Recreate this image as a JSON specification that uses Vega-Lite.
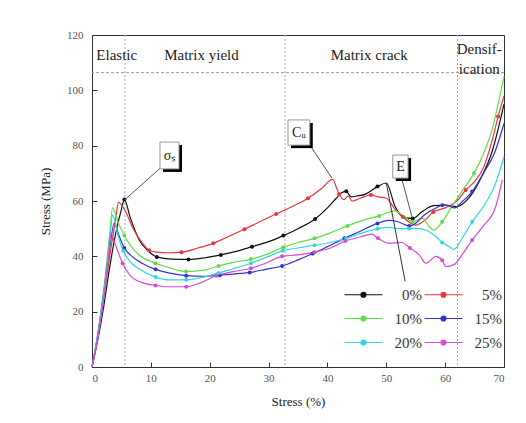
{
  "$schema": "https://vega.github.io/schema/vega-lite/v6.json",
  "width": 412,
  "height": 332,
  "autosize": "none",
  "padding": {"left": 92, "top": 35, "right": 22, "bottom": 56},
  "background": "white",
  "config": {
    "view": {"stroke": "#333", "strokeWidth": 1},
    "axis": {"grid": false, "domainColor": "#333", "tickColor": "#333", "labelFont": "Liberation Serif", "labelFontSize": 11, "labelColor": "#555", "titleFont": "Liberation Serif", "titleFontSize": 13, "titleFontWeight": "normal", "titleColor": "#222"}
  },
  "datasets": {
    "curves": [
      {"s":"0%","x":0,"y":0},{"s":"0%","x":1,"y":10},{"s":"0%","x":2,"y":22},{"s":"0%","x":3,"y":36},{"s":"0%","x":4,"y":48},{"s":"0%","x":5,"y":57},{"s":"0%","x":5.5,"y":60.5,"m":1},{"s":"0%","x":6.5,"y":54},{"s":"0%","x":8,"y":46},{"s":"0%","x":9.5,"y":42},{"s":"0%","x":11,"y":39.8,"m":1},{"s":"0%","x":13.5,"y":39},{"s":"0%","x":16.4,"y":38.9,"m":1},{"s":"0%","x":19,"y":39.4},{"s":"0%","x":21.9,"y":40.5,"m":1},{"s":"0%","x":24.5,"y":41.8},{"s":"0%","x":27.2,"y":43.5,"m":1},{"s":"0%","x":30,"y":45.3},{"s":"0%","x":32.5,"y":47.5,"m":1},{"s":"0%","x":35,"y":50},{"s":"0%","x":37.9,"y":53.5,"m":1},{"s":"0%","x":40,"y":57.5},{"s":"0%","x":41.5,"y":61},{"s":"0%","x":42.4,"y":63},{"s":"0%","x":43.2,"y":63.5,"m":1},{"s":"0%","x":44,"y":61.5},{"s":"0%","x":45,"y":61.8},{"s":"0%","x":46.5,"y":62.5},{"s":"0%","x":48.5,"y":65.2,"m":1},{"s":"0%","x":50,"y":66.5},{"s":"0%","x":51.5,"y":58},{"s":"0%","x":53,"y":54},{"s":"0%","x":54.5,"y":53.7,"m":1},{"s":"0%","x":56,"y":56},{"s":"0%","x":58,"y":58.3},{"s":"0%","x":60,"y":58.5},{"s":"0%","x":62,"y":58},{"s":"0%","x":64,"y":61},{"s":"0%","x":66,"y":68},{"s":"0%","x":68,"y":78},{"s":"0%","x":70,"y":95},
      {"s":"5%","x":0,"y":0},{"s":"5%","x":1,"y":11},{"s":"5%","x":2,"y":25},{"s":"5%","x":3,"y":40},{"s":"5%","x":4,"y":53},{"s":"5%","x":4.5,"y":59.5},{"s":"5%","x":5.5,"y":57},{"s":"5%","x":7,"y":50},{"s":"5%","x":8.5,"y":45},{"s":"5%","x":9.7,"y":42.2,"m":1},{"s":"5%","x":11,"y":41.5},{"s":"5%","x":13,"y":41.3},{"s":"5%","x":15.2,"y":41.5,"m":1},{"s":"5%","x":18,"y":43},{"s":"5%","x":20.6,"y":44.7,"m":1},{"s":"5%","x":23,"y":47},{"s":"5%","x":25.9,"y":49.8,"m":1},{"s":"5%","x":28.5,"y":52.5},{"s":"5%","x":31.3,"y":55.3,"m":1},{"s":"5%","x":34,"y":58},{"s":"5%","x":36.7,"y":61,"m":1},{"s":"5%","x":39,"y":64.5},{"s":"5%","x":40.9,"y":67.8},{"s":"5%","x":41.5,"y":65},{"s":"5%","x":42,"y":62.5,"m":1},{"s":"5%","x":42.8,"y":60.5},{"s":"5%","x":43.5,"y":61.8},{"s":"5%","x":44.2,"y":60},{"s":"5%","x":45,"y":60.5},{"s":"5%","x":46.2,"y":61.5},{"s":"5%","x":47.4,"y":62.2,"m":1},{"s":"5%","x":48.5,"y":61.5},{"s":"5%","x":50,"y":61},{"s":"5%","x":51.5,"y":57},{"s":"5%","x":52.8,"y":54.3,"m":1},{"s":"5%","x":55,"y":51.3},{"s":"5%","x":56.5,"y":53},{"s":"5%","x":58,"y":56,"m":1},{"s":"5%","x":60,"y":57.5},{"s":"5%","x":62,"y":60},{"s":"5%","x":63.5,"y":64,"m":1},{"s":"5%","x":65,"y":67},{"s":"5%","x":66.5,"y":72},{"s":"5%","x":68,"y":82},{"s":"5%","x":69,"y":90.5,"m":1},{"s":"5%","x":70,"y":98},
      {"s":"10%","x":0,"y":0},{"s":"10%","x":1,"y":12},{"s":"10%","x":2,"y":28},{"s":"10%","x":3,"y":48},{"s":"10%","x":3.5,"y":57.5},{"s":"10%","x":4.5,"y":52},{"s":"10%","x":5.5,"y":47.5,"m":1},{"s":"10%","x":6.5,"y":44},{"s":"10%","x":8,"y":40.5},{"s":"10%","x":10.8,"y":37.5,"m":1},{"s":"10%","x":13,"y":36},{"s":"10%","x":16,"y":34.5,"m":1},{"s":"10%","x":19,"y":35},{"s":"10%","x":21.5,"y":36.5,"m":1},{"s":"10%","x":24,"y":37.8},{"s":"10%","x":27,"y":39,"m":1},{"s":"10%","x":30,"y":41},{"s":"10%","x":32.5,"y":43.3,"m":1},{"s":"10%","x":35,"y":45},{"s":"10%","x":37.8,"y":46.5,"m":1},{"s":"10%","x":40.5,"y":48.5},{"s":"10%","x":43.4,"y":51,"m":1},{"s":"10%","x":46,"y":53},{"s":"10%","x":48.8,"y":54.6,"m":1},{"s":"10%","x":51.4,"y":56.4},{"s":"10%","x":53,"y":54.5},{"s":"10%","x":54.5,"y":52.5,"m":1},{"s":"10%","x":56.2,"y":53.7},{"s":"10%","x":57.2,"y":51},{"s":"10%","x":58.1,"y":49.5},{"s":"10%","x":59.5,"y":52.5,"m":1},{"s":"10%","x":61,"y":57.5},{"s":"10%","x":63,"y":64},{"s":"10%","x":64.9,"y":70,"m":1},{"s":"10%","x":66.5,"y":77},{"s":"10%","x":68,"y":86},{"s":"10%","x":69,"y":95},{"s":"10%","x":70,"y":105},
      {"s":"15%","x":0,"y":0},{"s":"15%","x":1,"y":12},{"s":"15%","x":2,"y":27},{"s":"15%","x":3,"y":43},{"s":"15%","x":3.8,"y":52},{"s":"15%","x":4.5,"y":48},{"s":"15%","x":5.5,"y":43,"m":1},{"s":"15%","x":6.5,"y":40.5},{"s":"15%","x":8.5,"y":37.5},{"s":"15%","x":10.8,"y":35.3,"m":1},{"s":"15%","x":13,"y":34},{"s":"15%","x":16,"y":33,"m":1},{"s":"15%","x":19,"y":32.8},{"s":"15%","x":21.7,"y":33.2,"m":1},{"s":"15%","x":24,"y":33.6},{"s":"15%","x":26.8,"y":34.2,"m":1},{"s":"15%","x":29.5,"y":35.3},{"s":"15%","x":32.3,"y":36.5,"m":1},{"s":"15%","x":35,"y":38.7},{"s":"15%","x":37.5,"y":41,"m":1},{"s":"15%","x":40,"y":43.5},{"s":"15%","x":42.9,"y":46.5,"m":1},{"s":"15%","x":45.5,"y":49},{"s":"15%","x":48.5,"y":51.9,"m":1},{"s":"15%","x":50.4,"y":53},{"s":"15%","x":52,"y":52.5},{"s":"15%","x":53.9,"y":51,"m":1},{"s":"15%","x":55,"y":52},{"s":"15%","x":56.5,"y":55},{"s":"15%","x":58.4,"y":57.4},{"s":"15%","x":59.5,"y":58.5,"m":1},{"s":"15%","x":60.5,"y":58.3},{"s":"15%","x":61.6,"y":57.5},{"s":"15%","x":63,"y":60},{"s":"15%","x":64.6,"y":63.4,"m":1},{"s":"15%","x":66.5,"y":70},{"s":"15%","x":68.5,"y":78},{"s":"15%","x":70,"y":88},
      {"s":"20%","x":0,"y":0},{"s":"20%","x":1,"y":12},{"s":"20%","x":2,"y":27},{"s":"20%","x":3,"y":45},{"s":"20%","x":3.5,"y":55},{"s":"20%","x":4.5,"y":47},{"s":"20%","x":5.3,"y":42,"m":1},{"s":"20%","x":6.5,"y":38},{"s":"20%","x":8,"y":35.5},{"s":"20%","x":10.8,"y":32.5,"m":1},{"s":"20%","x":13,"y":31.5},{"s":"20%","x":16,"y":31.5,"m":1},{"s":"20%","x":19,"y":32.5},{"s":"20%","x":21.5,"y":34,"m":1},{"s":"20%","x":24,"y":35.5},{"s":"20%","x":27,"y":37.5,"m":1},{"s":"20%","x":30,"y":40},{"s":"20%","x":32.4,"y":42,"m":1},{"s":"20%","x":35,"y":43},{"s":"20%","x":37.8,"y":44,"m":1},{"s":"20%","x":40.5,"y":45},{"s":"20%","x":43.2,"y":46.5,"m":1},{"s":"20%","x":46,"y":48.5},{"s":"20%","x":48.5,"y":50,"m":1},{"s":"20%","x":50.5,"y":50.5},{"s":"20%","x":52,"y":50},{"s":"20%","x":53.9,"y":50.1,"m":1},{"s":"20%","x":55.5,"y":50},{"s":"20%","x":56.7,"y":49.5},{"s":"20%","x":58.5,"y":47},{"s":"20%","x":59.5,"y":45,"m":1},{"s":"20%","x":60.7,"y":43.5},{"s":"20%","x":61.5,"y":42.5},{"s":"20%","x":63,"y":47},{"s":"20%","x":64.6,"y":52.5,"m":1},{"s":"20%","x":66.5,"y":58},{"s":"20%","x":68.5,"y":66},{"s":"20%","x":70,"y":76},
      {"s":"25%","x":0,"y":0},{"s":"25%","x":1,"y":11},{"s":"25%","x":2,"y":25},{"s":"25%","x":2.8,"y":40},{"s":"25%","x":3.2,"y":48},{"s":"25%","x":4,"y":44},{"s":"25%","x":5.2,"y":37.5,"m":1},{"s":"25%","x":6.5,"y":33},{"s":"25%","x":8.5,"y":30.5},{"s":"25%","x":10.8,"y":29.5,"m":1},{"s":"25%","x":13,"y":29},{"s":"25%","x":16,"y":29,"m":1},{"s":"25%","x":18.5,"y":30.5},{"s":"25%","x":21.1,"y":33,"m":1},{"s":"25%","x":24,"y":34.5},{"s":"25%","x":27,"y":35.7,"m":1},{"s":"25%","x":29.5,"y":37.5},{"s":"25%","x":32.3,"y":40,"m":1},{"s":"25%","x":35,"y":40.5},{"s":"25%","x":37.8,"y":41.5,"m":1},{"s":"25%","x":40.5,"y":43},{"s":"25%","x":43,"y":45.5,"m":1},{"s":"25%","x":45.5,"y":47},{"s":"25%","x":47.5,"y":48},{"s":"25%","x":48.6,"y":46.5,"m":1},{"s":"25%","x":50.5,"y":44.7},{"s":"25%","x":52.6,"y":45},{"s":"25%","x":54,"y":43,"m":1},{"s":"25%","x":55.6,"y":40.5},{"s":"25%","x":56.7,"y":37.5},{"s":"25%","x":57.5,"y":38.5},{"s":"25%","x":58.4,"y":40},{"s":"25%","x":59.5,"y":38.6,"m":1},{"s":"25%","x":60.1,"y":36.3},{"s":"25%","x":61.5,"y":37},{"s":"25%","x":63,"y":41},{"s":"25%","x":64.6,"y":45.9,"m":1},{"s":"25%","x":66.5,"y":51},{"s":"25%","x":68.6,"y":58},{"s":"25%","x":69.7,"y":67.6}
    ],
    "drop": [{"x":50,"y":66.5},{"x":53.2,"y":31}],
    "vzones": [{"x":5.6},{"x":32.8},{"x":62.1}],
    "hzone": [{"y":106.4}],
    "zonelabels": [
      {"t":"Elastic","x":4.2,"y":112.8},
      {"t":"Matrix yield","x":18.6,"y":112.8},
      {"t":"Matrix crack","x":47.1,"y":112.8},
      {"t":"Densif-","x":65.8,"y":114.9},
      {"t":"ication","x":65.8,"y":107.7}
    ],
    "boxes": [
      {"t":"σₛ","x1":11.55,"x2":14.78,"y1":81.3,"y2":71.6,"cx":13.15,"cy":76.4},
      {"t":"Cᵤ","x1":33.3,"x2":37.0,"y1":89.3,"y2":80.2,"cx":35.15,"cy":84.7},
      {"t":"E","x1":51.1,"x2":53.7,"y1":76.6,"y2":68.3,"cx":52.4,"cy":72.4}
    ],
    "arrows": [
      {"x":11.55,"y":71.8,"x2":5.6,"y2":60.5},
      {"x":37.2,"y":79.6,"x2":40.8,"y2":68.2},
      {"x":52.6,"y":68.3,"x2":54.4,"y2":54}
    ]
  },
  "layer": [
    {
      "data": {"name": "vzones"},
      "mark": {"type": "rule", "color": "#aaa", "strokeWidth": 1, "strokeDash": [2, 2]},
      "encoding": {"x": {"field": "x", "type": "quantitative"}}
    },
    {
      "data": {"name": "hzone"},
      "mark": {"type": "rule", "color": "#999", "strokeWidth": 1, "strokeDash": [3, 2]},
      "encoding": {"y": {"field": "y", "type": "quantitative"}}
    },
    {
      "data": {"name": "zonelabels"},
      "mark": {"type": "text", "font": "Liberation Serif", "fontSize": 15, "color": "#222"},
      "encoding": {
        "x": {"field": "x", "type": "quantitative"},
        "y": {"field": "y", "type": "quantitative"},
        "text": {"field": "t"}
      }
    },
    {
      "data": {"name": "curves"},
      "mark": {"type": "line", "interpolate": "monotone", "strokeWidth": 1.2},
      "encoding": {
        "x": {"field": "x", "type": "quantitative", "scale": {"domain": [0, 70], "nice": false, "zero": false},
          "axis": {"title": "Stress (%)", "values": [0,5,10,15,20,25,30,35,40,45,50,55,60,65,70], "labelExpr": "datum.value % 10 === 0 ? datum.label : ''", "tickSize": {"condition": {"test": "datum.value % 10 === 0", "value": -5}, "value": -3}, "labelPadding": 10, "titlePadding": 12, "labelFont": "Liberation Serif", "titleFont": "Liberation Serif"}},
        "y": {"field": "y", "type": "quantitative", "scale": {"domain": [0, 120], "nice": false},
          "axis": {"title": "Stress (MPa)", "values": [0,10,20,30,40,50,60,70,80,90,100,110,120], "labelExpr": "datum.value % 20 === 0 ? datum.label : ''", "tickSize": {"condition": {"test": "datum.value % 20 === 0", "value": -5}, "value": -3}, "labelPadding": 14, "titlePadding": 14, "labelFont": "Liberation Serif", "titleFont": "Liberation Serif"}},
        "color": {"field": "s", "type": "nominal",
          "scale": {"domain": ["0%","5%","10%","15%","20%","25%"], "range": ["#111111","#e8363c","#5fdc4a","#3434c8","#30d8e0","#dc48dc"]},
          "legend": {"orient": "none", "legendX": 250, "legendY": 252, "columns": 2, "direction": "horizontal", "title": null, "padding": 0,
            "symbolType": "M-1,0L6.6,0M2.3,0A0.5,0.5,0,1,1,3.3,0A0.5,0.5,0,1,1,2.3,0Z",
            "symbolSize": 100, "symbolStrokeWidth": 1.2,
            "labelFont": "Liberation Serif", "labelFontSize": 15, "labelColor": "#333", "labelOffset": 65, "labelAlign": "right",
            "columnPadding": 0, "rowPadding": 8,
            "encode": {"symbols": {"update": {"fill": {"scale": "color", "field": "value"}}}}}
        }
      }
    },
    {
      "data": {"name": "curves"},
      "transform": [{"filter": "datum.m === 1"}],
      "mark": {"type": "point", "filled": true, "size": 16, "opacity": 1},
      "encoding": {
        "x": {"field": "x", "type": "quantitative"},
        "y": {"field": "y", "type": "quantitative"},
        "color": {"field": "s", "type": "nominal"}
      }
    },
    {
      "data": {"name": "drop"},
      "mark": {"type": "line", "color": "#333", "strokeWidth": 1},
      "encoding": {"x": {"field": "x", "type": "quantitative"}, "y": {"field": "y", "type": "quantitative"}}
    },
    {
      "data": {"name": "arrows"},
      "mark": {"type": "rule", "color": "#555", "strokeWidth": 1},
      "encoding": {
        "x": {"field": "x", "type": "quantitative"}, "y": {"field": "y", "type": "quantitative"},
        "x2": {"field": "x2"}, "y2": {"field": "y2"}
      }
    },
    {
      "data": {"name": "boxes"},
      "mark": {"type": "rect", "fill": "#000", "xOffset": 3, "x2Offset": 3, "yOffset": 3, "y2Offset": 3},
      "encoding": {
        "x": {"field": "x1", "type": "quantitative"}, "x2": {"field": "x2"},
        "y": {"field": "y1", "type": "quantitative"}, "y2": {"field": "y2"}
      }
    },
    {
      "data": {"name": "boxes"},
      "mark": {"type": "rect", "fill": "#fff", "stroke": "#999", "strokeWidth": 1},
      "encoding": {
        "x": {"field": "x1", "type": "quantitative"}, "x2": {"field": "x2"},
        "y": {"field": "y1", "type": "quantitative"}, "y2": {"field": "y2"}
      }
    },
    {
      "data": {"name": "boxes"},
      "mark": {"type": "text", "font": "Liberation Serif", "fontSize": 14, "color": "#222"},
      "encoding": {
        "x": {"field": "cx", "type": "quantitative"}, "y": {"field": "cy", "type": "quantitative"},
        "text": {"field": "t"}
      }
    }
  ]
}
